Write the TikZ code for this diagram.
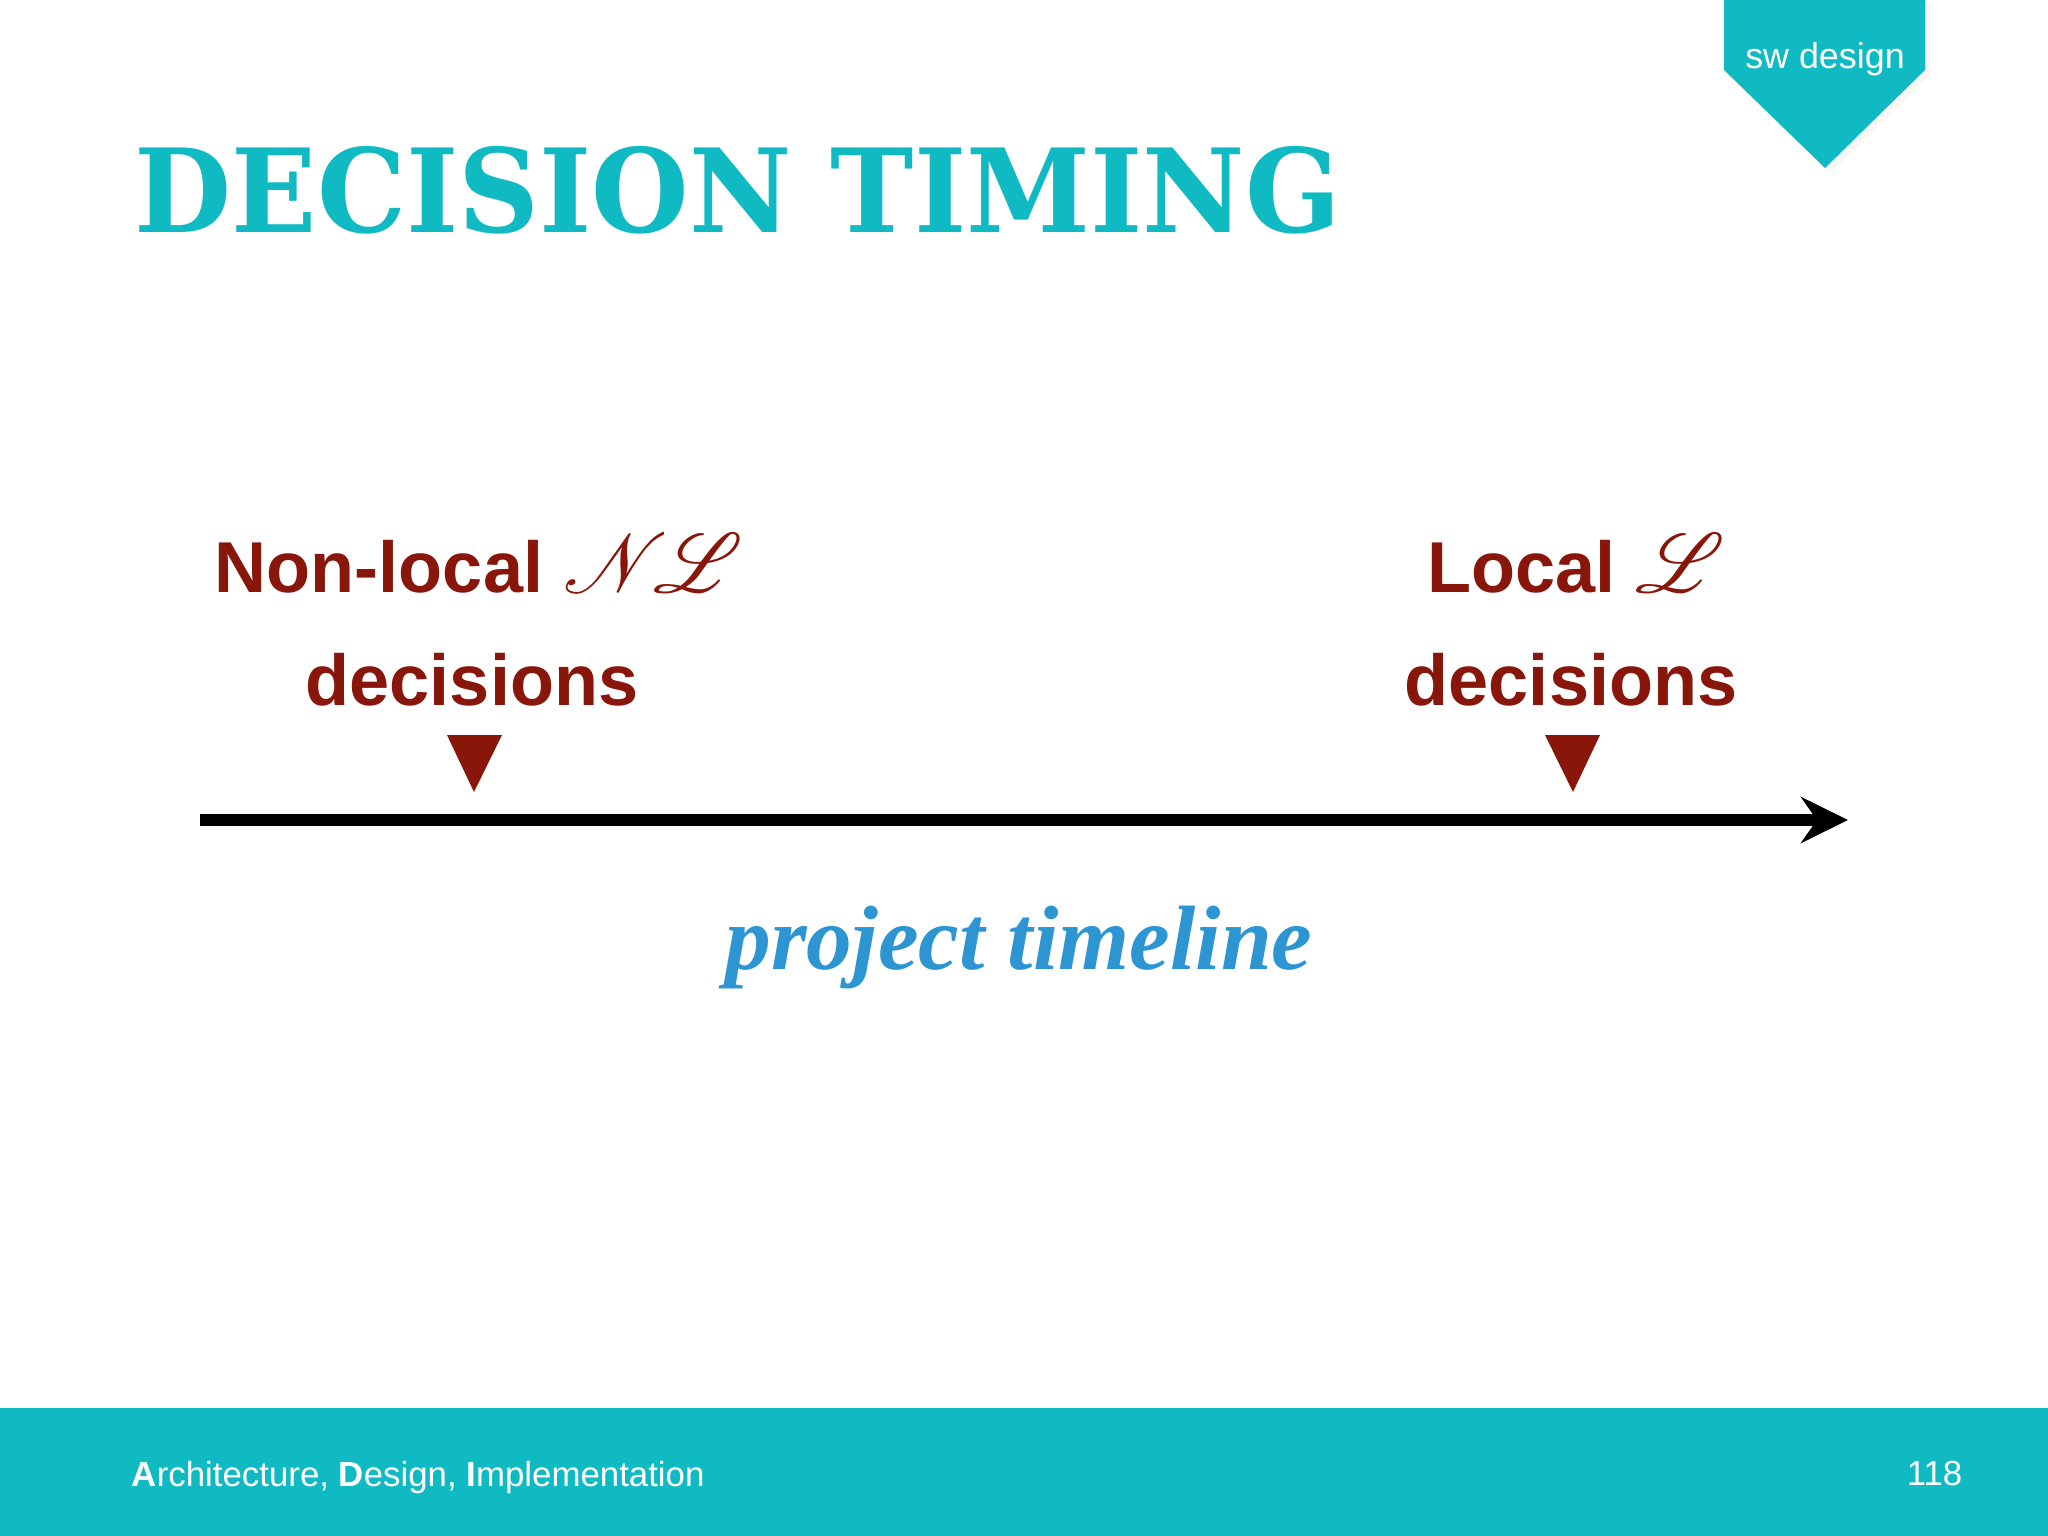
\documentclass[tikz,border=0pt]{standalone}
\usepackage{xcolor}
\usepackage{amsmath, amssymb}
\usepackage{mathrsfs}
\usepackage{graphicx}
\usepackage{fontspec}
\usepackage{tikz}
\usetikzlibrary{arrows.meta}
\usetikzlibrary{shadows}
\newfontfamily\helv{Liberation Sans}
\newfontfamily\slab{DejaVu Serif}
\newfontfamily\tms{Liberation Serif}
\definecolor{swteal}{RGB}{16,186,194}
\definecolor{decred}{RGB}{137,22,10}
\definecolor{lineblue}{RGB}{46,149,211}
\newcommand*{\scr}[1]{\scalebox{1.15}{$\mathscr{#1}$}}
\tikzstyle{dec}=[text=decred,font=\helv\bfseries\fontsize{20.5}{25}\selectfont,anchor=base,inner sep=0pt]
\tikzstyle{pointer}=[fill=decred]
\tikzstyle{foot}=[text=white,font=\helv\fontsize{9.9}{12}\selectfont,inner sep=0pt]
\begin{document}
\begin{tikzpicture}[x=0.01cm,y=-0.01cm]
\useasboundingbox[fill=white] (0,0) rectangle (2048,1536);

%title
\node[anchor=base west,inner sep=0pt,xscale=0.965,text=swteal,font=\slab\bfseries\fontsize{33}{40}\selectfont] (title) at (134,232) {DECISION TIMING};

%corner tag
\fill[swteal,drop shadow={opacity=0.06,shadow xshift=0.05cm,shadow yshift=-0.05cm}] (1724,0) -- (1925,0) -- (1925,70) -- (1825,168) -- (1724,70) -- cycle;
\node[anchor=base,text=white,inner sep=0pt,font=\helv\fontsize{10.2}{12}\selectfont] (tag) at (1825,68) {sw design};

%decision labels
\node[dec] (nl) at (479,592) {Non-local \scr{N}\hspace{-0.2em}\scr{L}};
\node[dec] (nldec) at (472,705) {decisions};
\node[dec] (l) at (1576,592) {Local \scr{L}};
\node[dec] (ldec) at (1571,705) {decisions};

%pointers
\fill[pointer] (447,735) -- (502,735) -- (474,792) -- cycle;
\fill[pointer] (1545,735) -- (1600,735) -- (1573,792) -- cycle;

%timeline
\coordinate (t0) at (200,820);
\coordinate (t1) at (1848,820);
\draw[line width=0.12cm,-{Stealth[length=0.47cm,width=0.46cm,inset=0.16cm]}] (t0) -- (t1);
\node[anchor=base,inner sep=0pt,text=lineblue,font=\tms\bfseries\itshape\fontsize{26}{30}\selectfont] (tl) at (1019,969) {project timeline};

%footer
\fill[swteal] (0,1408) rectangle (2048,1536);
\node[foot,anchor=base west] (course) at (131,1486) {\textbf{A}rchitecture, \textbf{D}esign, \textbf{I}mplementation};
\node[foot,anchor=base east] (page) at (1963,1485) {118};
\end{tikzpicture}
\end{document}
